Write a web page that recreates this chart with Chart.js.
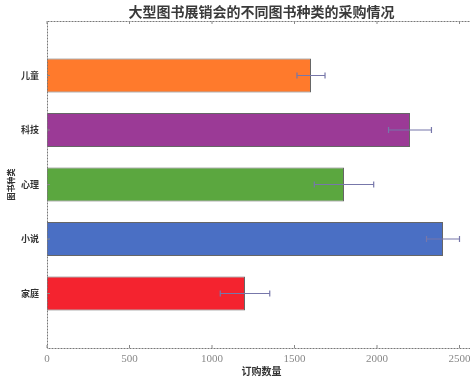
<!DOCTYPE html>
<html lang="zh">
<head>
    <meta charset="UTF-8">
    <title>大型图书展销会的不同图书种类的采购情况</title>
    <script src="https://cdn.jsdelivr.net/npm/chart.js@4"></script>
    <style>
        html, body { margin: 0; padding: 0; background: #fff; overflow: hidden; }
        .wrap { width: 476px; height: 379px; }
    </style>
</head>
<body>
<div class="wrap">
    <canvas id="book-chart" width="476" height="379"></canvas>
</div>

<script>
    // categories from top to bottom, as in the picture
    const categories = ['儿童', '科技', '心理', '小说', '家庭'];
    const orders = [1600, 2200, 1800, 2400, 1200];
    const errors = [85, 130, 180, 100, 150];
    const barColors = ['#ff7a2c', '#9b3a96', '#5ba73f', '#4a6fc4', '#f4232f'];
    const xTicks = [0, 500, 1000, 1500, 2000, 2500];
    const chartTitle = '大型图书展销会的不同图书种类的采购情况';

    // pad the category axis with an empty slot at each end (like ylim -1..5)
    const labels = [''].concat(categories, ['']);
    const padded = [null].concat(orders, [null]);
    const paddedErr = [null].concat(errors, [null]);
    const paddedColors = ['#fff'].concat(barColors, ['#fff']);

    const serif = '"Liberation Serif", "DejaVu Serif", serif';
    const cjk = '"Noto Sans CJK SC", sans-serif';

    // error bars, dotted frame and a title centred over the plot area
    const errorBars = {
        id: 'errorBars',
        afterDatasetsDraw(chart) {
            const ctx = chart.ctx;
            const x = chart.scales.x;
            const y = chart.scales.y;
            const a = chart.chartArea;
            ctx.save();
            ctx.strokeStyle = '#7777aa';
            ctx.lineWidth = 1.2;
            paddedErr.forEach((err, i) => {
                if (err === null) return;
                const cy = y.getPixelForValue(i);
                const x0 = x.getPixelForValue(padded[i] - err);
                const x1 = x.getPixelForValue(padded[i] + err);
                ctx.beginPath();
                ctx.moveTo(x0, cy);
                ctx.lineTo(x1, cy);
                ctx.moveTo(x0, cy - 3);
                ctx.lineTo(x0, cy + 3);
                ctx.moveTo(x1, cy - 3);
                ctx.lineTo(x1, cy + 3);
                ctx.stroke();
            });
            // frame
            ctx.strokeStyle = '#777';
            ctx.lineWidth = 1;
            ctx.setLineDash([2, 1]);
            ctx.strokeRect(a.left + 0.5, a.top + 0.5, a.right - a.left, a.bottom - a.top);
            ctx.setLineDash([]);
            // small inside ticks
            ctx.strokeStyle = '#888';
            xTicks.forEach(v => {
                const px = x.getPixelForValue(v);
                ctx.beginPath();
                ctx.moveTo(px, a.bottom);
                ctx.lineTo(px, a.bottom - 3);
                ctx.moveTo(px, a.top);
                ctx.lineTo(px, a.top + 3);
                ctx.stroke();
            });
            categories.forEach((c, i) => {
                const py = y.getPixelForValue(i + 1);
                ctx.beginPath();
                ctx.moveTo(a.left, py);
                ctx.lineTo(a.left + 3, py);
                ctx.moveTo(a.right, py);
                ctx.lineTo(a.right - 3, py);
                ctx.stroke();
            });
            // title, centred on the axes like matplotlib does
            ctx.fillStyle = '#3a3a3a';
            ctx.font = 'bold 14px ' + cjk;
            ctx.textAlign = 'center';
            ctx.textBaseline = 'middle';
            ctx.fillText(chartTitle, (a.left + a.right) / 2, 12);
            ctx.restore();
        }
    };

    new Chart(document.getElementById('book-chart'), {
        type: 'bar',
        data: {
            labels: labels,
            datasets: [{
                data: padded,
                backgroundColor: paddedColors,
                borderColor: '#666',
                borderWidth: 1,
                barPercentage: 0.62,
                categoryPercentage: 1
            }]
        },
        options: {
            indexAxis: 'y',
            responsive: false,
            animation: false,
            layout: { padding: { top: 21, right: 0, bottom: 0, left: 0 } },
            plugins: {
                legend: { display: false },
                tooltip: { enabled: false },
                title: { display: false }
            },
            scales: {
                x: {
                    min: 0,
                    max: 2600,
                    grid: { display: false, drawTicks: false },
                    border: { display: false },
                    afterBuildTicks: scale => {
                        scale.ticks = xTicks.map(v => ({ value: v }));
                    },
                    afterFit: scale => { scale.height = 31; },
                    ticks: {
                        color: '#888',
                        padding: 5,
                        font: { family: serif, size: 11 },
                        callback: v => String(v)
                    },
                    title: {
                        display: true,
                        text: '订购数量',
                        color: '#333',
                        padding: { top: 0, bottom: 2 },
                        font: { family: cjk, size: 10, weight: 'bold' }
                    }
                },
                y: {
                    offset: false,
                    grid: { display: false, drawTicks: false },
                    border: { display: false },
                    afterFit: scale => { scale.width = 47; },
                    ticks: {
                        color: '#333',
                        padding: 8,
                        font: { family: cjk, size: 9, weight: 'bold' }
                    },
                    title: {
                        display: true,
                        text: '图书种类',
                        color: '#333',
                        padding: { top: 6, bottom: 0 },
                        font: { family: cjk, size: 8, weight: 'bold' }
                    }
                }
            }
        },
        plugins: [errorBars]
    });
</script>
</body>
</html>
